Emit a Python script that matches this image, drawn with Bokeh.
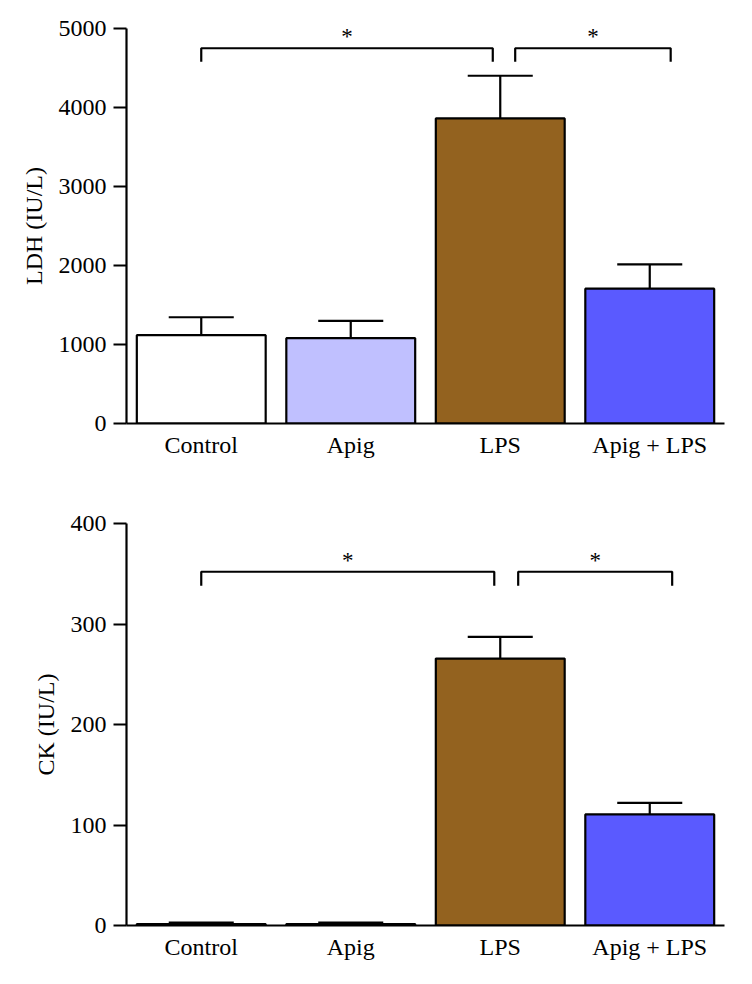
from bokeh.plotting import figure
from bokeh.layouts import column
from bokeh.models import Range1d, FixedTicker, Label, ColumnDataSource
from bokeh.embed import file_html
from bokeh.resources import INLINE

# ---- data ----
categories = ["Control", "Apig", "LPS", "Apig + LPS"]
bar_colors = ["#ffffff", "#c0c0ff", "#93621f", "#5a5aff"]

ldh_mean = [1118, 1080, 3862, 1707]
ldh_err = [227, 220, 540, 308]
ldh_ticks = [0, 1000, 2000, 3000, 4000, 5000]

ck_mean = [1.5, 1.5, 265.6, 110.5]
ck_err = [1.5, 1.5, 21.5, 11.5]
ck_ticks = [0, 100, 200, 300, 400]

# significance brackets: (from group index, to group index, height, drop)
ldh_brackets = [(1.0, 2.95, 4750, 4580), (3.1, 4.14, 4750, 4580)]
ck_brackets = [(1.0, 2.96, 352, 338), (3.12, 4.15, 352, 338)]

FONT = "Liberation Serif"
BAR_W = 0.862
CAP_W = 0.435


def make_panel(mean, err, ticks, ylabel, brackets, star_dy, width, height,
               bl, br, bt, bb):
    xs = list(range(1, len(categories) + 1))
    p = figure(width=width, height=height, output_backend="svg",
               toolbar_location=None,
               x_range=Range1d(0.5, len(categories) + 0.5),
               y_range=Range1d(ticks[0], ticks[-1]))
    p.min_border_left = bl
    p.min_border_right = br
    p.min_border_top = bt
    p.min_border_bottom = bb
    p.outline_line_color = None
    p.xgrid.visible = False
    p.ygrid.visible = False
    p.background_fill_color = "white"
    p.border_fill_color = "white"

    top = [m + e for m, e in zip(mean, err)]
    src = ColumnDataSource(dict(x=xs, mean=mean, top=top,
                                x0=[x - CAP_W / 2 for x in xs],
                                x1=[x + CAP_W / 2 for x in xs],
                                color=bar_colors))
    # error bars
    p.segment(x0="x", y0="mean", x1="x", y1="top", source=src,
              line_color="black", line_width=2.2)
    p.segment(x0="x0", y0="top", x1="x1", y1="top", source=src,
              line_color="black", line_width=2.2)
    # bars
    p.vbar(x="x", top="mean", bottom=0, width=BAR_W, source=src,
           fill_color="color", line_color="black", line_width=2.2)

    # brackets
    for (a, b, h, d) in brackets:
        p.line(x=[a, a, b, b], y=[d, h, h, d], line_color="black",
               line_width=2.2)
        p.add_layout(Label(x=(a + b) / 2, y=h + star_dy, text="*",
                           text_align="center", text_baseline="alphabetic",
                           text_font=FONT, text_font_size="23px",
                           text_color="black"))

    # x axis
    xa = p.xaxis[0]
    xa.ticker = FixedTicker(ticks=xs)
    xa.major_label_overrides = {x: c for x, c in zip(xs, categories)}
    xa.major_tick_line_color = None
    xa.major_tick_out = 0
    xa.major_tick_in = 0
    xa.minor_tick_line_color = None
    xa.axis_line_width = 2.2
    xa.axis_line_color = "black"
    xa.major_label_text_font = FONT
    xa.major_label_text_font_size = "24px"
    xa.major_label_text_color = "black"
    xa.major_label_standoff = 8

    # y axis
    ya = p.yaxis[0]
    ya.ticker = FixedTicker(ticks=ticks)
    ya.minor_tick_line_color = None
    ya.major_tick_out = 13
    ya.major_tick_in = 0
    ya.major_tick_line_width = 2.2
    ya.major_tick_line_color = "black"
    ya.axis_line_width = 2.2
    ya.axis_line_color = "black"
    ya.major_label_text_font = FONT
    ya.major_label_text_font_size = "24px"
    ya.major_label_text_color = "black"
    ya.major_label_standoff = 7
    ya.axis_label = ylabel
    ya.axis_label_text_font = FONT
    ya.axis_label_text_font_size = "24px"
    ya.axis_label_text_font_style = "normal"
    ya.axis_label_text_color = "black"
    ya.axis_label_standoff = 9
    return p


p1 = make_panel(ldh_mean, ldh_err, ldh_ticks, "LDH (IU/L)", ldh_brackets,
                150, 744, 480, 126, 20, 28, 57)
p2 = make_panel(ck_mean, ck_err, ck_ticks, "CK (IU/L)", ck_brackets,
                11.5, 744, 495, 126, 13, 43, 50)

layout = column(p1, p2, spacing=0)
open("out.html", "w").write(file_html(layout, INLINE))
